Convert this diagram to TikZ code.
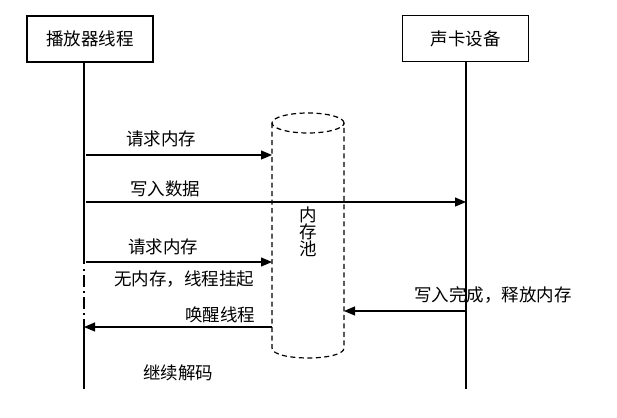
\documentclass[tikz,border=0pt]{standalone}
\usepackage{fontspec}
\setmainfont{Noto Sans CJK SC}
\usetikzlibrary{arrows.meta}
\begin{document}
\begin{tikzpicture}[x=1pt,y=-1pt,
  font=\fontsize{17.5}{19}\selectfont,
  actor/.style={draw, line width=1.6pt, minimum width=126pt, minimum height=46pt, inner sep=0pt},
  life/.style={line width=1.5pt},
  lifedd/.style={line width=1.6pt, dash pattern=on 2pt off 4pt on 12pt off 4pt},
  msg/.style={line width=1.2pt, -{Triangle[length=11pt,width=9pt]}},
  cyl/.style={line width=1.2pt, dash pattern=on 5pt off 3.5pt},
  lbl/.style={inner sep=0pt}]
\useasboundingbox (0,0) rectangle (617,417);
% actors
\node[actor] (p) at (90,39) {播放器线程};
\node[actor] (s) at (465.5,38.5) {声卡设备};
% lifeline coordinates
\coordinate (pTop) at (84,62);
\coordinate (pA) at (84,264);
\coordinate (pB) at (84,323);
\coordinate (pEnd) at (84,389);
\coordinate (sTop) at (466,62);
\coordinate (sEnd) at (466,389);
\draw[life] (pTop) -- (pA);
\draw[lifedd] (84,269) -- (pB);
\draw[life] (pB) -- (pEnd);
\draw[life] (sTop) -- (sEnd);
% memory pool cylinder
\coordinate (cTL) at (272,123);
\coordinate (cTR) at (344,123);
\coordinate (cBL) at (272,348);
\coordinate (cBR) at (344,348);
\draw[cyl] (308,123) ellipse [x radius=36pt, y radius=10pt];
\draw[cyl] (cTL) -- (cBL) .. controls (272,361.3) and (344,361.3) .. (cBR) -- (cTR);
\node[lbl, align=center, font=\fontsize{17.5}{17}\selectfont] (pool) at (308.5,231.5) {内\\存\\池};
% message endpoints
\coordinate (m1s) at (86,155);  \coordinate (m1e) at (272,155);
\coordinate (m2s) at (86,202);  \coordinate (m2e) at (466,202);
\coordinate (m3s) at (86,262);  \coordinate (m3e) at (272,262);
\coordinate (m4s) at (272,327); \coordinate (m4e) at (84,327);
\coordinate (m5s) at (466,311); \coordinate (m5e) at (344,311);
\draw[msg] (m1s) -- (m1e);
\draw[msg] (m2s) -- (m2e);
\draw[msg] (m3s) -- (m3e);
\draw[msg] (m4s) -- (m4e);
\draw[msg] (m5s) -- (m5e);
% labels
\node[lbl] (l1) at (161,139) {请求内存};
\node[lbl] (l2) at (165,189) {写入数据};
\node[lbl] (l3) at (163,247) {请求内存};
\node[lbl] (l4) at (184,279) {无内存，线程挂起};
\node[lbl] (l5) at (220,315) {唤醒线程};
\node[lbl] (l6) at (493,295) {写入完成，释放内存};
\node[lbl] (l7) at (178,373) {继续解码};
\end{tikzpicture}
\end{document}
